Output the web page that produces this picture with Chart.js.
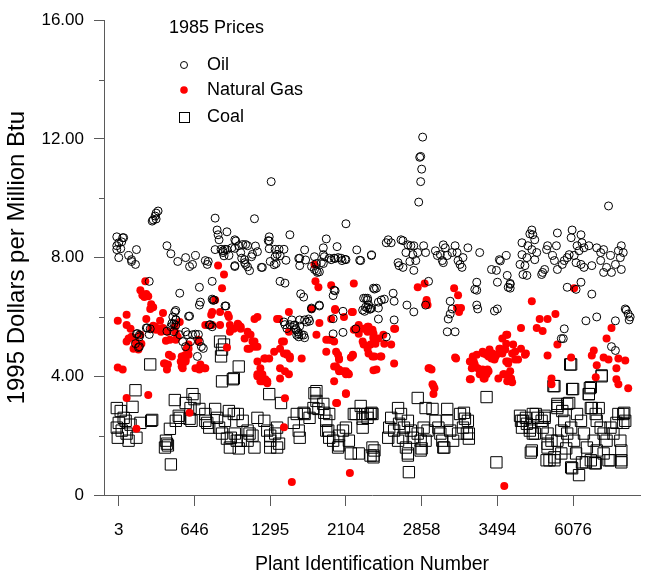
<!DOCTYPE html>
<html>
<head>
<meta charset="utf-8">
<title>1985 Prices</title>
<script src="https://cdn.jsdelivr.net/npm/chart.js@4.4.1/dist/chart.umd.min.js"></script>
<style>
  body { margin: 0; background: #fff; }
  canvas { display: block; }
</style>
</head>
<body>
<canvas id="grafico" width="649" height="577"></canvas>
<script>
// posicao no eixo x = ordem da usina, eixo y = 1995 dolares por milhao de Btu
const xTickPos = [0, 77, 154, 231, 308, 385, 462];
const xTickLabels = ['3', '646', '1295', '2104', '2858', '3494', '6076'];
const yTicks = [0, 2, 4, 6, 8, 10, 12, 14, 16];

const seriesNames = ['Oil', 'Natural Gas', 'Coal'];

const oilData = [
  [35,9.27],[37,9.4],[38,9.5],[40,9.57],[34,9.23],[38,9.3],
  [0,8.5],[3,8.53],[5,8.67],[-2,8.4],[2,8.3],[0,8.0],[10,8.07],[13,7.93],[17,7.77],[18,8.27],[13,7.87],[4,8.67],[-2,8.7],[-2,8.27],
  [49,8.4],[53,8.13],[60,7.87],[68,8.0],[72,7.7],[75,7.77],[78,8.07],[88,7.9],[91,7.87],[90,7.77],
  [98,9.33],[100,8.93],[101,8.77],[110,8.87],[102,8.6],[98,8.27],[106,8.23],[110,8.27],[115,8.33],[112,8.07],[118,8.6],[118,7.73],[122,8.4],
  [31,7.2],[62,6.8],[82,7.0],[95,7.2],[83,6.5],[82,6.4],[95,6.6],[97,6.57],[108,6.37],
  [57,6.17],[55,6.0],[58,5.9],[56,5.77],[72,6.03],[28,5.63],[32,5.6],[18,5.43],[21,5.33],[20,4.97],[17,5.1],[68,5.5],[70,5.4],[75,5.4],[62,5.4],[65,5.17],[68,5.0],[82,5.17],[84,5.0],[80,4.67],[92,5.73],[95,5.67],
  [119,8.56],[126,8.44],[118,8.31],[129,8.44],[104,8.28],[108,8.28],[106,8.17],[107,8.06],[139,8.39],[141,8.2],[136,8.11],[135,8.03],[153,8.3],[153,8.56],[159,8.28],[163,8.28],[168,8.28],[161,8.11],[164,8.06],[159,8.03],
  [189,8.26],[184,7.98],[190,7.92],[199,8.03],[208,8.33],[222,8.37],[242,8.26],[257,8.09],[209,8.03],[214,7.98],[219,7.98],[226,7.98],[230,7.94],[245,7.91],
  [125,7.98],[128,7.83],[131,7.69],[133,7.56],[145,7.67],[154,7.87],[158,7.76],[160,7.8],[196,7.7],[201,7.56],[204,7.52],[170,7.91],[118,7.7],
  [155,10.56],[138,9.31],[231,9.14],[153,8.7],[152,8.57],[174,8.77],[211,8.63],
  [164,7.2],[169,7.14],[185,6.78],[188,6.67],[218,6.72],[220,6.88],[251,6.63],[253,6.63],[260,6.94],
  [96,6.56],[109,6.37],[58,6.22],[71,6.02],[58,5.91],[54,5.78],[53,5.67],[49,5.52],[56,5.5],[78,5.42],[81,5.41],[73,5.17],[86,4.94],
  [19,5.44],[21,5.39],[31,5.41],[21,5.0],[29,5.63],[58,5.72],[93,5.74],
  [168,5.83],[169,5.74],[171,5.61],[174,5.74],[178,5.72],[180,5.61],[182,5.5],[184,5.69],[188,5.39],[191,5.83],[194,5.86],[181,5.39],[183,5.33],
  [196,6.3],[204,6.37],[228,6.19],[218,5.94],[228,5.48],[249,6.63],[251,6.33],[254,6.41],[250,6.19],[255,6.26],
  [124,8.17],[128,7.93],[129,7.77],[146,7.67],[131,8.4],
  [208,8.1],[183,7.97],[184,7.73],[201,7.8],[202,7.5],[199,7.6],[206,7.83],[208,7.8],[216,7.93],[220,7.97],[223,8.0],[227,7.9],[231,7.93],[246,7.9],
  [219,6.9],[204,6.4],[196,6.27],[248,6.23],[253,6.3],[256,6.27],[253,6.57],[259,6.97],
  [176,5.9],[179,5.73],[184,5.9],[189,5.9],[193,5.93],[180,5.57],[183,5.43],[186,5.4],[189,5.3],[241,5.6],[218,5.43],
  [274,8.6],[272,8.5],[277,8.5],[287,8.6],[289,8.57],[294,8.43],[292,8.17],[297,8.4],[300,8.4],[299,8.1],[304,8.17],[310,8.4],[312,8.17],[302,7.9],[296,7.87],[284,7.83],[285,7.73],[289,7.67],[300,7.57],
  [322,8.23],[324,8.07],[327,8.1],[330,8.43],[332,8.33],[334,8.07],[339,8.17],[342,8.4],[344,8.17],[345,7.9],[350,8.0],[355,8.33],[367,8.17],[329,7.9],[330,7.83],[347,7.77],[349,7.67],
  [379,7.6],[384,7.57],[387,7.93],[394,8.07],[395,7.4],[385,7.17],[364,7.17],[362,6.93],[364,6.9],
  [257,8.07],[262,6.97],[264,6.5],[264,6.3],[257,6.3],[267,6.57],[270,6.6],[279,6.8],[280,6.53],[293,6.4],[300,6.17],[280,5.9],[264,5.93],[272,5.33],[315,7.2],[312,6.4],[337,6.53],[339,6.27],[337,6.1],[335,5.93],[342,5.5],[334,5.5],[364,6.4],[365,6.27],[382,6.2],[385,6.27],
  [309,12.06],[307,11.41],[306,11.38],[308,10.98],[307,10.56],[305,9.87],[498,9.74],
  [398,7.13],[398,6.97],[388,7.89],
  [420,8.93],[418,8.8],[421,8.77],[423,8.6],[410,8.5],[416,8.4],[420,8.27],[425,8.17],[410,8.1],[415,8.0],[423,7.93],[408,7.77],[413,7.73],[411,7.43],[415,7.4],[431,7.5],[430,7.43],[433,7.6],
  [436,8.4],[435,8.27],[445,8.4],[446,8.83],[441,8.07],[443,7.9],[446,7.6],[451,7.77],[453,7.9],[456,8.0],[458,8.1],[461,8.93],[460,8.67],[466,8.4],[470,8.77],[471,8.5],[473,8.33],[468,8.23],[463,8.07],[465,7.83],[470,7.77],[473,7.67],
  [478,8.4],[481,7.73],[486,8.33],[490,8.17],[490,7.9],[493,8.27],[493,7.5],[496,7.67],[500,8.07],[501,7.5],[505,7.77],[510,8.0],[511,8.4],[513,8.17],[511,7.6],[508,8.23],
  [398,7.1],[396,7.0],[456,7.0],[465,6.93],[470,7.17],[481,6.77],[453,5.6],[450,5.27],[452,5.27],[475,5.87],[486,6.0],[505,5.87],[516,6.23],[518,6.1],[515,6.27],[520,6.0],[519,5.9],[501,5.0],[505,4.87]
];

const gasData = [
  [27,7.2],[22,6.9],[24,6.73],[28,6.77],[30,6.7],[26,6.67],[33,6.43],[32,6.27],[35,6.33],
  [-1,5.87],[8,6.07],[8,5.73],[12,5.6],[10,5.27],[8,5.17],[13,5.33],[15,4.93],[17,5.17],[18,5.07],[22,5.4],[23,5.1],[20,4.9],
  [28,5.93],[35,5.7],[40,5.6],[45,5.63],[42,5.87],[45,6.13],[38,5.57],[37,5.67],[43,5.5],[33,5.6],[50,5.5],[52,5.23],[48,5.2],[58,5.23],[60,5.33],[57,5.67],[62,5.83],[58,5.47],
  [54,4.67],[47,4.43],[50,4.4],[49,4.23],[63,4.5],[65,4.27],[68,4.57],[70,4.77],[71,4.93],[67,4.7],[65,4.4],[78,4.27],[83,4.4],[87,4.27],[82,4.23],
  [81,5.23],[88,5.73],[95,6.17],[103,6.17],[112,6.0],[103,5.73],[95,5.73],[113,5.73],[117,5.6],[122,5.73],[110,4.97],
  [-1,4.3],[4,4.23],[8,3.27],[30,3.37],[18,2.23],[72,2.77],
  [101,7.73],[107,7.43],[105,6.97],[98,6.57],
  [176,0.44],[235,0.74],[168,2.28],[169,3.26],
  [138,5.93],[161,5.93],[173,6.17],[173,5.5],[166,5.17],[164,4.93],[168,4.77],[171,4.73],[174,4.6],[186,4.6],[201,5.4],[204,5.8],[216,5.93],[220,6.27],[229,6.0],[238,6.17],
  [214,5.23],[211,4.83],[221,4.83],[224,4.57],[238,4.7],[248,5.17],[244,5.73],[241,5.6],[251,5.6],[258,5.5],[261,5.1],[260,4.67],
  [221,4.33],[224,4.17],[231,4.17],[234,4.07],[259,4.2],[219,3.83],[231,3.43],[221,3.1],
  [141,4.5],[144,4.27],[141,4.0],[146,4.07],[149,3.9],[144,3.83],[151,3.83],[149,4.6],[153,4.6],[158,4.83],[164,3.93],[169,4.17],[173,4.07],
  [128,5.27],[131,5.5],[134,5.4],[136,5.17],[138,5.0],[141,5.0],[131,4.93],[124,5.6],[121,5.77],[114,5.6],[111,6.07],[113,5.5],
  [94,6.07],[81,5.17],[71,4.73],[68,4.5],[64,4.33],[81,4.27],[88,4.27],[46,4.43],[51,4.73],[64,4.67],[69,4.93],[71,5.07],
  [199,7.77],[200,7.2],[203,7.0],[216,7.07],[239,7.13],[220,6.23],[237,6.17],[196,6.27],
  [211,5.23],[216,5.23],[219,5.17],[223,4.73],[224,4.6],[238,4.73],[236,4.63],[239,5.57],[244,5.43],[249,5.6],[253,5.5],[254,5.67],[258,5.57],[249,5.07],[253,4.93],[256,5.07],[259,5.27],
  [219,4.33],[224,4.23],[228,4.17],[233,4.1],[231,4.07],[231,3.4],[222,3.1],
  [141,6.0],[124,5.67],[138,5.17],[133,4.93],[148,4.6],[141,4.07],[146,3.83],[151,3.77],[168,5.17],[171,4.77],[174,4.67],[164,4.27],[163,5.93],
  [304,7.0],[311,7.13],[313,6.5],[314,6.4],[341,6.97],[345,6.73],[344,6.3],[348,6.3],[346,6.17],[342,4.63],[315,4.27],[318,4.23],[319,3.73],[320,3.67],[320,3.4],[321,3.6],
  [280,5.6],[280,4.43],[277,5.07],[270,5.1],[267,4.67],[262,4.23],[264,5.27],[259,5.43],[269,5.4],[266,4.67],[258,4.67],[254,4.77],[259,5.33],[253,5.67],[254,5.6],
  [313,6.57],[312,6.43],[392,0.3],[281,5.6],[316,4.27],[343,4.6],
  [357,4.5],[360,4.67],[364,4.73],[362,4.4],[365,4.27],[357,3.9],[367,4.07],[370,4.23],[372,3.93],[374,4.07],[375,4.23],[370,4.83],[374,4.73],[377,4.9],[380,4.77],[384,4.73],[387,4.93],[390,5.27],[394,5.1],[392,4.07],[395,3.83],[394,4.5],[390,4.77],[379,4.6],[382,4.57],
  [394,5.4],[388,4.93],[393,4.9],[401,5.07],[403,4.83],[406,4.57],[414,4.77],[409,4.93],[396,4.43],[398,4.17],[399,3.93],[391,4.07],[386,3.93],[383,4.67],[376,4.67],[371,4.77],[361,4.5],[359,4.27],[358,3.9],[368,4.1],[371,3.93],[376,4.17],
  [463,6.97],[420,6.53],[428,5.93],[436,5.93],[444,6.1],[425,5.63],[431,5.53],[409,5.63],[395,5.4],[400,4.77],[396,4.5],[403,4.57],[413,4.73],[396,4.07],[400,3.8],
  [440,3.93],[440,3.73],[436,4.7],[446,5.07],[460,4.63],[483,4.87],[481,4.7],[486,4.37],[493,4.63],[498,4.57],[496,5.27],[501,5.63],[508,4.6],[515,4.53],[506,4.27],[506,3.9],[508,3.73],[518,3.6],[485,3.97]
];

const coalData = [
  [32,4.4],[103,5.17],[105,4.9],[104,4.67],[107,5.07],[122,4.33],[117,3.93],[105,3.83],
  [17,3.53],[14,2.97],[2,2.83],[5,2.6],[0,2.43],[3,2.17],[7,2.5],[8,2.07],[12,2.37],[18,1.93],[10,1.83],[-1,1.93],[22,2.43],[33,2.5],[-2,2.93],[-2,2.27],
  [48,1.83],[50,1.67],[47,1.6],[53,1.03],
  [57,3.2],[68,3.1],[75,3.4],[77,3.23],[73,2.93],[82,2.9],[62,2.6],[58,2.5],[52,2.23],[72,2.57],[74,2.5],[88,2.73],[90,2.43],[92,2.27],[98,2.9],[100,2.6],[102,2.27],[105,2.07],[108,2.5],[112,2.83],[117,2.73],[118,2.07],[120,1.83],[122,1.57],[113,1.6],[110,1.9],
  [153,3.4],[165,3.1],
  [121,2.73],[126,2.5],[131,2.17],[136,2.0],[141,2.6],[148,2.5],[151,2.17],[154,1.83],[159,2.07],[163,1.73],[154,1.6],[161,2.27],[131,1.83],[138,1.6],[124,1.83],
  [178,2.43],[183,2.17],[184,1.93],[189,2.73],[194,2.6],[199,3.43],[201,3.17],[203,2.9],[208,3.07],[209,2.77],[211,2.5],[214,2.73],[213,2.17],[214,1.93],[218,1.83],[223,1.6],[224,2.0],[228,2.17],[231,2.27],[234,1.83],[236,1.4],[239,2.73],[246,3.0],[248,2.73],[253,2.73],[258,2.73],[244,1.4],[248,2.27],[256,1.33],[258,1.6],
  [34,2.53],[49,1.73],[61,2.67],[88,2.5],[114,1.93],[133,2.07],[154,2.0],[161,1.6],[181,2.73],[188,2.77],[198,2.93],[201,3.5],[211,2.17],[224,1.67],[241,2.73],[248,2.57],[259,1.33],[116,3.9],
  [304,3.27],[312,2.93],[319,2.9],[334,2.9],[347,2.73],[352,2.57],[374,3.3],[384,1.1],[295,0.77],[294,1.33],[257,2.77],[260,1.5],[259,1.27],
  [277,2.6],[284,2.93],[287,2.73],[275,2.27],[280,2.17],[285,2.4],[290,2.27],[294,2.5],[297,2.17],[299,1.93],[289,1.93],[292,1.6],[304,2.07],[307,1.83],[307,1.5],[310,2.27],[314,2.17],[312,1.83],
  [322,2.5],[325,2.27],[327,2.07],[329,1.83],[330,1.6],[334,2.5],[337,2.17],[340,1.83],[345,2.07],[350,2.27],[354,2.07],[355,2.5],
  [253,2.6],[256,2.73],[351,2.77],[356,2.07],[356,1.9],[331,1.6],[308,1.57],[294,1.4],[284,1.83],[274,1.93],
  [409,2.5],[414,2.6],[418,2.27],[421,2.07],[424,2.73],[433,2.6],[436,1.73],[419,1.43],[438,1.17],[443,1.17],
  [446,3.07],[458,3.1],[459,4.4],[491,4.0],[479,3.6],[478,3.4],[461,3.57],[443,3.67],
  [468,0.67],[461,0.9],[471,1.1],[484,1.07],[498,1.17],[511,1.1],[513,2.43],[514,2.77],[508,2.73],[488,2.93],[481,2.93],
  [408,2.67],[411,2.5],[415,2.4],[410,2.27],[418,2.17],[423,2.07],[421,2.73],[426,2.6],[430,2.5],[433,2.67],[431,2.27],[436,2.07],[420,1.5],[435,1.17],[436,1.6],[443,1.27],
  [446,2.93],[451,2.83],[453,2.5],[450,2.17],[456,2.07],[460,2.27],[463,1.83],[466,2.73],[470,2.5],[473,2.07],[476,1.6],[475,1.1],[460,0.93],
  [480,2.93],[485,2.73],[486,2.5],[490,2.27],[493,2.07],[483,1.83],[486,1.5],[493,1.4],[496,1.83],[500,1.17],[503,2.07],[510,1.83],[511,1.5],[513,2.73],[511,1.17],[515,2.5],[506,2.43],[500,2.27],
  [465,1.4],[455,1.57],[450,1.4],[446,1.83],[440,1.83],[480,1.17],[485,1.07],
  [460,4.4],[491,4.03],[442,3.67],[462,3.57],[480,3.63],[478,3.4],[456,3.07],[446,3.0]
];

const corEixo = '#5a5a5a';
const fonte = '"Liberation Sans", Arial, sans-serif';

function paraPontos(lista) {
  return lista.map(p => ({ x: p[0], y: p[1] }));
}

// legenda desenhada dentro da area do grafico
const legendaPlugin = {
  id: 'legendaInterna',
  afterDraw(chart) {
    const ctx = chart.ctx;
    const yScale = chart.scales.y;
    ctx.save();

    // ticks menores do eixo y
    ctx.strokeStyle = corEixo;
    ctx.lineWidth = 1;
    [2, 6, 10, 14].forEach(v => {
      const py = Math.round(yScale.getPixelForValue(v)) + 0.5;
      ctx.beginPath();
      ctx.moveTo(yScale.right - 5, py);
      ctx.lineTo(yScale.right, py);
      ctx.stroke();
    });

    ctx.fillStyle = '#000';
    ctx.font = '18px ' + fonte;
    ctx.textBaseline = 'middle';
    ctx.textAlign = 'left';
    ctx.fillText('1985 Prices', 169, 28);

    const mx = 184;
    const linhas = [65, 90, 117];

    ctx.strokeStyle = '#000';
    ctx.beginPath();
    ctx.arc(mx, linhas[0], 3.5, 0, Math.PI * 2);
    ctx.stroke();

    ctx.fillStyle = '#ff0000';
    ctx.beginPath();
    ctx.arc(mx, linhas[1], 3.8, 0, Math.PI * 2);
    ctx.fill();

    ctx.strokeRect(mx - 5 + 0.5, linhas[2] - 5 + 0.5, 10, 10);

    ctx.fillStyle = '#000';
    seriesNames.forEach((nome, i) => {
      ctx.fillText(nome, 207, linhas[i]);
    });
    ctx.restore();
  }
};

function gerarGrafico() {
  const ctx = document.getElementById('grafico').getContext('2d');

  new Chart(ctx, {
    type: 'scatter',
    data: {
      datasets: [
        {
          label: seriesNames[0],
          data: paraPontos(oilData),
          pointStyle: 'circle',
          pointRadius: 4,
          borderColor: '#000',
          borderWidth: 1,
          backgroundColor: 'rgba(0,0,0,0)'
        },
        {
          label: seriesNames[1],
          data: paraPontos(gasData),
          pointStyle: 'circle',
          pointRadius: 4,
          borderColor: '#ff0000',
          borderWidth: 0,
          backgroundColor: '#ff0000'
        },
        {
          label: seriesNames[2],
          data: paraPontos(coalData),
          pointStyle: 'rect',
          pointRadius: 8,
          borderColor: '#000',
          borderWidth: 1,
          backgroundColor: 'rgba(0,0,0,0)'
        }
      ]
    },
    options: {
      responsive: false,
      animation: false,
      devicePixelRatio: 1,
      layout: { padding: { top: 15, right: 0, left: 0, bottom: 0 } },
      plugins: {
        legend: { display: false },
        tooltip: { enabled: false }
      },
      scales: {
        x: {
          type: 'linear',
          min: -15,
          max: 530,
          afterBuildTicks: scale => {
            scale.ticks = xTickPos.map(v => ({ value: v }));
          },
          afterFit: scale => { scale.height = 82; },
          ticks: {
            autoSkip: false,
            maxRotation: 0,
            padding: 14,
            color: '#000',
            font: { family: fonte, size: 17 },
            callback: value => {
              const i = xTickPos.indexOf(value);
              return i >= 0 ? xTickLabels[i] : '';
            }
          },
          grid: { drawOnChartArea: false, tickLength: 11, color: corEixo },
          border: { color: corEixo, width: 1 },
          title: {
            display: true,
            text: 'Plant Identification Number',
            color: '#000',
            font: { family: fonte, size: 19.5 },
            padding: { top: 0, bottom: 1 }
          }
        },
        y: {
          min: 0,
          max: 16,
          afterBuildTicks: scale => {
            scale.ticks = yTicks.map(v => ({ value: v }));
          },
          afterFit: scale => { scale.width = 104; },
          ticks: {
            padding: 10,
            color: '#000',
            font: { family: fonte, size: 17 },
            callback: value => {
              if (value === 0) return '0';
              return value % 4 === 0 ? value.toFixed(2) : '';
            }
          },
          grid: {
            drawOnChartArea: false,
            tickLength: 10,
            color: c => (c.tick && c.tick.value % 4 === 0 ? corEixo : 'rgba(0,0,0,0)')
          },
          border: { color: corEixo, width: 1 },
          title: {
            display: true,
            text: '1995 Dollars per Million Btu',
            color: '#000',
            font: { family: fonte, size: 24 },
            padding: { top: 3, bottom: 0 }
          }
        }
      }
    },
    plugins: [legendaPlugin]
  });
}

document.addEventListener('DOMContentLoaded', gerarGrafico);
</script>
</body>
</html>
